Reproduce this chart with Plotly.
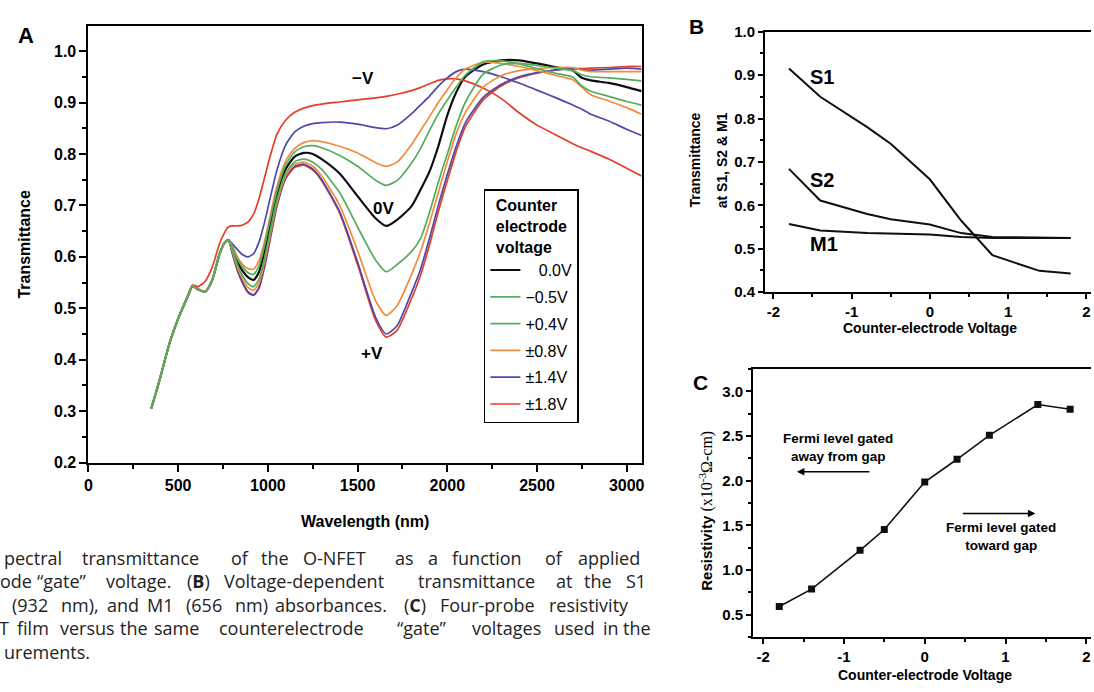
import plotly.graph_objects as go

W, H = 1094, 692
OFF = 0  # body margin removed by post_script below

# ---------------- Panel A data ----------------
wavelength_nm = [350, 400, 450, 500, 550, 580, 610, 650, 690, 730, 760, 780,
                 800, 830, 860, 890, 920, 950, 980, 1010, 1050, 1100, 1150, 1200,
                 1250, 1300, 1400, 1500, 1600, 1660, 1720, 1800, 1850, 1900, 1950,
                 2000, 2050, 2100, 2200, 2300, 2400, 2500, 2600, 2700, 2750, 2800,
                 2900, 3000, 3083]

t_m18 = [0.305, 0.365, 0.43, 0.48, 0.522, 0.545, 0.542, 0.552, 0.58, 0.625, 0.648, 0.658,
         0.66, 0.66, 0.662, 0.668, 0.683, 0.712, 0.752, 0.792, 0.838, 0.866, 0.881, 0.889,
         0.894, 0.897, 0.901, 0.905, 0.909, 0.912, 0.916, 0.923, 0.929, 0.936, 0.943,
         0.946, 0.946, 0.942, 0.928, 0.908, 0.88, 0.856, 0.838, 0.82, 0.812, 0.805,
         0.79, 0.772, 0.757]
t_m14 = [0.305, 0.365, 0.43, 0.48, 0.52, 0.543, 0.537, 0.532, 0.555, 0.605, 0.628, 0.633,
         0.626, 0.614, 0.604, 0.600, 0.606, 0.628, 0.665, 0.71, 0.768, 0.818, 0.843, 0.854,
         0.859, 0.861, 0.862, 0.858, 0.851, 0.849, 0.856, 0.878, 0.895, 0.912, 0.932,
         0.948, 0.96, 0.965, 0.96, 0.95, 0.938, 0.924, 0.91, 0.895, 0.887, 0.877,
         0.864, 0.848, 0.836]
t_m08 = [0.305, 0.365, 0.43, 0.48, 0.52, 0.543, 0.537, 0.532, 0.555, 0.605, 0.628, 0.633,
         0.622, 0.6, 0.585, 0.577, 0.576, 0.592, 0.628, 0.675, 0.737, 0.787, 0.811, 0.822,
         0.826, 0.824, 0.815, 0.802, 0.783, 0.776, 0.784, 0.818, 0.845, 0.872, 0.9,
         0.925, 0.948, 0.965, 0.978, 0.976, 0.97, 0.962, 0.953, 0.944, 0.93, 0.915,
         0.903, 0.89, 0.877]
t_m05 = [0.305, 0.365, 0.43, 0.48, 0.52, 0.543, 0.537, 0.532, 0.555, 0.605, 0.628, 0.633,
         0.62, 0.596, 0.58, 0.569, 0.566, 0.582, 0.62, 0.668, 0.728, 0.779, 0.804, 0.814,
         0.816, 0.812, 0.797, 0.776, 0.749, 0.739, 0.748, 0.782, 0.81, 0.845, 0.878,
         0.905, 0.93, 0.953, 0.979, 0.981, 0.975, 0.966, 0.957, 0.949, 0.932, 0.922,
         0.912, 0.902, 0.895]
t_0 = [0.305, 0.365, 0.43, 0.48, 0.52, 0.543, 0.537, 0.532, 0.555, 0.605, 0.628, 0.633,
       0.617, 0.59, 0.572, 0.56, 0.555, 0.57, 0.607, 0.655, 0.718, 0.771, 0.795, 0.802,
       0.8, 0.79, 0.762, 0.718, 0.675, 0.66, 0.672, 0.698, 0.73, 0.765, 0.815,
       0.875, 0.92, 0.95, 0.974, 0.982, 0.982, 0.976, 0.969, 0.962, 0.948, 0.943,
       0.938, 0.93, 0.922]
t_p04 = [0.305, 0.365, 0.43, 0.48, 0.52, 0.543, 0.537, 0.532, 0.555, 0.605, 0.628, 0.633,
         0.615, 0.585, 0.563, 0.548, 0.542, 0.556, 0.595, 0.645, 0.71, 0.763, 0.785, 0.79,
         0.784, 0.77, 0.725, 0.658, 0.594, 0.571, 0.585, 0.61, 0.635, 0.685, 0.745,
         0.8, 0.855, 0.9, 0.955, 0.973, 0.976, 0.972, 0.967, 0.962, 0.954, 0.95,
         0.948, 0.945, 0.942]
t_p08 = [0.305, 0.365, 0.43, 0.48, 0.52, 0.543, 0.537, 0.532, 0.555, 0.605, 0.628, 0.633,
         0.613, 0.58, 0.557, 0.54, 0.535, 0.548, 0.588, 0.638, 0.705, 0.758, 0.78, 0.784,
         0.776, 0.757, 0.7, 0.612, 0.515, 0.486, 0.505, 0.565, 0.61, 0.665, 0.725,
         0.785, 0.84, 0.88, 0.93, 0.952, 0.962, 0.966, 0.968, 0.968, 0.963, 0.96,
         0.96, 0.96, 0.96]
t_p14 = [0.305, 0.365, 0.43, 0.48, 0.52, 0.543, 0.537, 0.532, 0.555, 0.605, 0.628, 0.633,
         0.61, 0.575, 0.55, 0.532, 0.526, 0.54, 0.58, 0.632, 0.7, 0.755, 0.776, 0.78,
         0.771, 0.75, 0.688, 0.59, 0.483, 0.45, 0.466, 0.53, 0.575, 0.635, 0.7,
         0.76, 0.815, 0.86, 0.91, 0.935, 0.95, 0.958, 0.963, 0.966, 0.964, 0.963,
         0.965, 0.967, 0.965]
t_p18 = [0.305, 0.365, 0.43, 0.48, 0.52, 0.543, 0.537, 0.532, 0.555, 0.605, 0.628, 0.633,
         0.608, 0.573, 0.548, 0.53, 0.525, 0.538, 0.577, 0.628, 0.697, 0.752, 0.774, 0.778,
         0.769, 0.748, 0.685, 0.585, 0.477, 0.444, 0.457, 0.518, 0.563, 0.622, 0.688,
         0.748, 0.805, 0.852, 0.905, 0.932, 0.948, 0.957, 0.963, 0.966, 0.966, 0.967,
         0.968, 0.97, 0.97]

legend_labels = ["\u00a0\u00a0\u00a00.0V", "\u22120.5V", "+0.4V", "\u00b10.8V", "\u00b11.4V", "\u00b11.8V"]

# ---------------- Panel B data ----------------
gate_voltage = [-1.8, -1.4, -0.8, -0.5, 0.0, 0.4, 0.8, 1.4, 1.8]
trans_S1 = [0.915, 0.850, 0.780, 0.742, 0.660, 0.565, 0.485, 0.449, 0.443]
trans_S2 = [0.684, 0.611, 0.580, 0.568, 0.556, 0.536, 0.527, 0.525, 0.525]
trans_M1 = [0.557, 0.542, 0.536, 0.535, 0.533, 0.527, 0.525, 0.525, 0.525]

# ---------------- Panel C data ----------------
resistivity = [0.59, 0.785, 1.22, 1.453, 1.985, 2.24, 2.508, 2.853, 2.80]

GREEN = "rgb(84,172,92)"
ORANGE = "rgb(242,140,58)"
BLUE = "rgb(78,72,170)"
RED = "rgb(228,62,40)"
BLACK = "rgb(15,15,15)"

FONT = "Arial, Liberation Sans, sans-serif"

fig = go.Figure()

curves = [
    (t_0, BLACK, legend_labels[0], True, 1),
    (t_m18, RED, legend_labels[5], True, 6),
    (t_p18, RED, legend_labels[5], False, 6),
    (t_p14, BLUE, legend_labels[4], False, 5),
    (t_m14, BLUE, legend_labels[4], True, 5),
    (t_m08, ORANGE, legend_labels[3], True, 4),
    (t_p08, ORANGE, legend_labels[3], False, 4),
    (t_m05, GREEN, legend_labels[1], True, 2),
    (t_p04, GREEN, legend_labels[2], True, 3),
]
for vals, col, name, show, rank in curves:
    fig.add_trace(go.Scatter(
        x=wavelength_nm, y=vals, mode="lines", name=name,
        line=dict(color=col, width=2.2 if col == BLACK else 1.7, shape="spline", smoothing=0.6),
        showlegend=show, legendgroup=name, legendrank=rank,
        xaxis="x", yaxis="y"))

for vals in (trans_S1, trans_S2, trans_M1):
    fig.add_trace(go.Scatter(
        x=gate_voltage, y=vals, mode="lines", showlegend=False,
        line=dict(color=BLACK, width=2), xaxis="x2", yaxis="y2"))

fig.add_trace(go.Scatter(
    x=gate_voltage, y=resistivity, mode="lines+markers", showlegend=False,
    line=dict(color=BLACK, width=1.6),
    marker=dict(symbol="square", size=7, color=BLACK),
    xaxis="x3", yaxis="y3"))


def pxX(p):
    return (p - OFF) / W


def pxY(p):
    return 1 - (p - OFF) / H


tick_font = dict(family=FONT, size=16, color="black", weight="bold")
small_tick_font = dict(family=FONT, size=15, color="black", weight="bold")

common_axis = dict(showline=True, linecolor="black", linewidth=2, ticks="outside",
                   tickcolor="black", tickwidth=2, showgrid=False, zeroline=False,
                   ticklabeloverflow="allow")

fig.update_layout(
    width=W, height=H, margin=dict(l=0, r=0, t=0, b=0),
    paper_bgcolor="white", plot_bgcolor="white",
    xaxis=dict(domain=[pxX(85), pxX(641.7)], range=[0, 3083], anchor="y",
               tickvals=[0, 500, 1000, 1500, 2000, 2500, 3000], ticklen=7,
               minor=dict(dtick=250, ticklen=4, ticks="outside", tickcolor="black", tickwidth=2),
               tickfont=tick_font, mirror=True, **common_axis),
    yaxis=dict(domain=[pxY(465.7), pxY(17.3)], range=[0.2, 1.049], anchor="x",
               tickvals=[0.2, 0.3, 0.4, 0.5, 0.6, 0.7, 0.8, 0.9, 1.0], tickformat=".1f", ticklen=7,
               minor=dict(dtick=0.05, ticklen=4, ticks="outside", tickcolor="black", tickwidth=2),
               tickfont=tick_font, mirror=True, **common_axis),
    xaxis2=dict(domain=[pxX(766), pxX(1094)], range=[-2.105, 2.06], anchor="y2",
                tickvals=[-2, -1, 0, 1, 2], ticktext=["-2", "-1", "0", "1", "2"], ticklen=5,
                minor=dict(dtick=0.5, ticklen=3, ticks="outside", tickcolor="black", tickwidth=2),
                tickfont=small_tick_font, mirror=True, **common_axis),
    yaxis2=dict(domain=[pxY(290.7), pxY(23.3)], range=[0.4, 1.0], anchor="x2",
                tickvals=[0.4, 0.5, 0.6, 0.7, 0.8, 0.9, 1.0], tickformat=".1f", ticklen=5,
                minor=dict(dtick=0.05, ticklen=3, ticks="outside", tickcolor="black", tickwidth=2),
                tickfont=small_tick_font, **common_axis),
    xaxis3=dict(domain=[pxX(754), pxX(1094)], range=[-2.123, 2.058], anchor="y3",
                tickvals=[-2, -1, 0, 1, 2], ticktext=["-2", "-1", "0", "1", "2"], ticklen=5,
                minor=dict(dtick=0.5, ticklen=3, ticks="outside", tickcolor="black", tickwidth=2),
                tickfont=small_tick_font, mirror=True, **common_axis),
    yaxis3=dict(domain=[pxY(645), pxY(369.3)], range=[0.246, 3.255], anchor="x3",
                tickvals=[0.5, 1.0, 1.5, 2.0, 2.5, 3.0], tickformat=".1f", ticklen=5,
                minor=dict(dtick=0.25, ticklen=3, ticks="outside", tickcolor="black", tickwidth=2),
                tickfont=small_tick_font, **common_axis),
    legend=dict(x=pxX(483), y=pxY(185), xanchor="left", yanchor="top",
                bordercolor="black", borderwidth=1.5, bgcolor="white",
                font=dict(family=FONT, size=16, color="black"),
                title=dict(text="<b>Counter<br>electrode<br>voltage</b>", side="top center",
                           font=dict(family=FONT, size=16, color="black")),
                tracegroupgap=3, itemwidth=30, traceorder="grouped"),
)

ann = []


def paper_text(x, y, text, size, bold=True, angle=0, family=FONT, xanchor="center", color="black", pad=1):
    ann.append(dict(x=pxX(x), y=pxY(y), xref="paper", yref="paper", text=text, showarrow=False,
                    xanchor=xanchor, yanchor="middle", textangle=angle, borderpad=pad,
                    font=dict(family=family, size=size, color=color, weight="bold" if bold else "normal")))


# panel letters
paper_text(21.7, 26.7, "A", 22)
paper_text(696.7, 18.3, "B", 21)
paper_text(700.7, 383.3, "C", 21)

# axis titles
paper_text(21, 241, "Transmittance", 16, angle=-90)
paper_text(363, 526, "Wavelength (nm)", 16)
paper_text(695, 155, "Transmittance", 14, angle=-90)
paper_text(723, 155, "at S1, S2 &amp; M1", 14, angle=-90)
paper_text(932, 328, "Counter-electrode Voltage", 14)
paper_text(706.7, 515,
           "Resistivity <span style='font-family:Liberation Serif, serif;font-weight:normal;font-size:16px'>(x10<sup>-3</sup>\u03a9-cm)</span>",
           15, angle=-90)
paper_text(926.7, 684, "Counter-electrode Voltage", 14)

# panel A curve labels (data coords)
for txt, xv, yv in [("\u2212V", 1532, 0.946), ("0V", 1643, 0.694), ("+V", 1579, 0.413)]:
    ann.append(dict(x=xv, y=yv, xref="x", yref="y", text=txt, showarrow=False,
                    font=dict(family=FONT, size=17, color="black", weight="bold")))

# panel B labels
for txt, xv, yv in [("S1", -1.384, 0.895), ("S2", -1.38, 0.658), ("M1", -1.354, 0.51)]:
    ann.append(dict(x=xv, y=yv, xref="x2", yref="y2", text=txt, showarrow=False,
                    font=dict(family=FONT, size=20, color="black", weight="bold")))

# panel C annotations
paper_text(839, 450, "Fermi level gated<br>away from gap", 13.5)
paper_text(1003, 542, "Fermi level gated<br>toward gap", 13.5)
ann.append(dict(x=pxX(798), y=pxY(475), xref="paper", yref="paper", ax=74, ay=0, text="",
                showarrow=True, arrowhead=2, arrowsize=1, arrowwidth=1.5, arrowcolor="black"))
ann.append(dict(x=pxX(1038), y=pxY(518), xref="paper", yref="paper", ax=-74, ay=0, text="",
                showarrow=True, arrowhead=2, arrowsize=1, arrowwidth=1.5, arrowcolor="black"))

# caption (justified lines: words placed at their positions)
CAP = "Open Sans, sans-serif"
CAP_COLOR = "rgb(35,35,35)"
caption_lines = [
    (563.3, [("pectral", -1), ("transmittance", 77), ("of", 227), ("the", 258), ("O-NFET", 300),
             ("as", 393), ("a", 426), ("function", 450), ("of", 543), ("applied", 577)]),
    (587.3, [("ode", -5), ("\u201cgate\u201d", 32), ("voltage.", 102), ("(<b>B</b>)", 183),
             ("Voltage-dependent", 220), ("transmittance", 416), ("at", 555), ("the", 583), ("S1", 625)]),
    (611.7, [("(932", 6.7), ("nm),", 56.7), ("and", 102.7), ("M1", 143.3), ("(656", 181.7),
             ("nm)", 231.7), ("absorbances.", 271.7), ("(<b>C</b>)", 401.7), ("Four-probe", 438),
             ("resistivity", 548)]),
    (636, [("T", -6), ("film", 11.7), ("versus", 55), ("the", 116), ("same", 150),
           ("counterelectrode", 215), ("\u201cgate\u201d", 395), ("voltages", 470), ("used", 553),
           ("in", 602), ("the", 622)]),
    (660, [("urements.", -1)]),
]
for yl, words in caption_lines:
    for w, xw in words:
        paper_text(xw, yl, w, 18, bold=False, family=CAP, xanchor="left", color=CAP_COLOR, pad=0)

fig.update_layout(annotations=ann)

fig.write_html("out.html",
               config={"displayModeBar": False},
               post_script="document.body.style.margin='0px';document.body.style.overflow='hidden';")
